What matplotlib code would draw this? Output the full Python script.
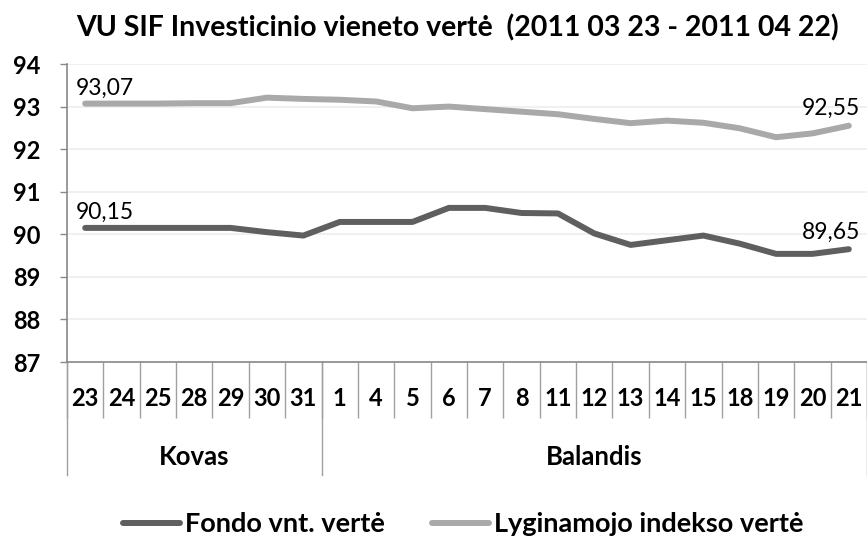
import matplotlib
matplotlib.use("Agg")
import matplotlib.pyplot as plt
import matplotlib.transforms as mtransforms

days = ["23", "24", "25", "28", "29", "30", "31", "1", "4", "5", "6", "7",
        "8", "11", "12", "13", "14", "15", "18", "19", "20", "21"]
months = ["Kovas", "Balandis"]
month_sizes = [7, 15]
fondo = [90.15, 90.15, 90.15, 90.15, 90.15, 90.05, 89.97, 90.29, 90.29, 90.29,
         90.62, 90.62, 90.50, 90.49, 90.02, 89.75, 89.86, 89.97, 89.78, 89.54,
         89.54, 89.65]
indeksas = [93.07, 93.07, 93.07, 93.08, 93.08, 93.21, 93.18, 93.16, 93.12, 92.96,
            93.00, 92.94, 92.88, 92.82, 92.71, 92.61, 92.67, 92.62, 92.49, 92.28,
            92.37, 92.55]
series_names = ["Fondo vnt. vertė", "Lyginamojo indekso vertė"]
title = "VU SIF Investicinio vieneto vertė  (2011 03 23 - 2011 04 22)"
yticks = [87, 88, 89, 90, 91, 92, 93, 94]

FONT = "Lato"
plt.rcParams["font.family"] = [FONT, "DejaVu Sans"]

W, H = 867, 538
fig = plt.figure(figsize=(W / 100, H / 100), dpi=100)
ax = fig.add_axes([67 / W, 1 - 362 / H, (867 - 67) / W, (362 - 64) / H])

x = list(range(len(days)))
c_dark = "#5f5f5f"
c_light = "#a9a9a9"
l1, = ax.plot(x, fondo, color=c_dark, lw=4.3, solid_capstyle="round",
              solid_joinstyle="round", label=series_names[0], zorder=3)
l2, = ax.plot(x, indeksas, color=c_light, lw=4.3, solid_capstyle="round",
              solid_joinstyle="round", label=series_names[1], zorder=3)

def fmt(v):
    return f"{v:.2f}".replace(".", ",")

for ser in (fondo, indeksas):
    ax.annotate(fmt(ser[0]), (x[0], ser[0]), xytext=(-6.5, 6.5), textcoords="offset points",
                ha="left", va="baseline", fontsize=16.5, color="black")
    ax.annotate(fmt(ser[-1]), (x[-1], ser[-1]), xytext=(8, 7.5), textcoords="offset points",
                ha="right", va="baseline", fontsize=16.5, color="black")

ax.set_xlim(-0.5, len(days) - 0.5)
ax.set_ylim(87, 94)
ax.set_yticks(yticks)
ax.set_yticklabels([str(t) for t in yticks], fontsize=17, fontweight="bold")
ax.tick_params(axis="y", length=5, width=1, color="#898989", pad=14)
ax.yaxis.grid(True, color="#efefef", lw=1.3)
ax.set_axisbelow(True)

ax.set_xticks(x)
ax.set_xticklabels(days, fontsize=17, fontweight="bold")
ax.tick_params(axis="x", which="major", length=0, pad=18)
ax.set_xticks([i - 0.5 for i in range(len(days) + 1)], minor=True)
ax.tick_params(axis="x", which="minor", length=40, width=1, color="#a0a0a0", direction="out")

for s in ("top", "right"):
    ax.spines[s].set_visible(False)
for s in ("left", "bottom"):
    ax.spines[s].set_color("#898989")
    ax.spines[s].set_linewidth(1.2)

# month group separators and labels
trans = mtransforms.blended_transform_factory(ax.transData, fig.transFigure)
start = 0
bounds = [-0.5]
for m, n in zip(months, month_sizes):
    center = start + (n - 1) / 2
    ax.text(center, 1 - 457 / H, m, transform=trans, ha="center", va="center",
            fontsize=18.5, fontweight="bold")
    start += n
    bounds.append(start - 0.5)
for b in bounds:
    ax.plot([b, b], [1 - 362 / H, 1 - 475 / H], transform=trans, color="#a0a0a0",
            lw=1, clip_on=False)

fig.text(457 / W, 1 - 28 / H, title, ha="center", va="center", fontsize=20.5,
         fontweight="bold")

leg = fig.legend(handles=[l1, l2], loc="center", bbox_to_anchor=(463.5 / W, 1 - 524 / H),
                 ncol=2, frameon=False, handlelength=2.1, handletextpad=0.18,
                 columnspacing=1.75, prop={"family": [FONT, "DejaVu Sans"], "size": 19.5,
                                           "weight": "bold"})

fig.savefig("out.png", dpi=100)
